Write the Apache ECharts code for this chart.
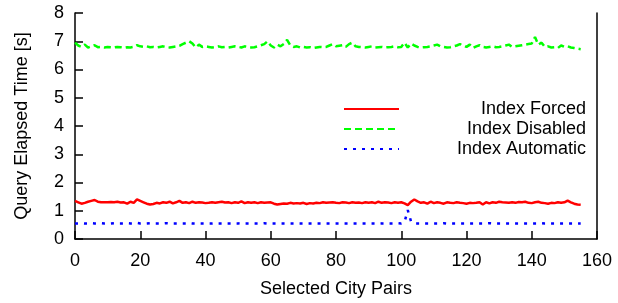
<!DOCTYPE html>
<html><head><meta charset="utf-8">
<script src="https://cdn.jsdelivr.net/npm/echarts@6/dist/echarts.min.js"></script>
<style>html,body{margin:0;padding:0;background:#fff}#c{width:618px;height:303px}</style>
</head><body><div id="c"></div>
<script>
const seriesNames = ['Index Forced', 'Index Disabled', 'Index Automatic'];
const xTicks = [0, 20, 40, 60, 80, 100, 120, 140, 160];
const yTicks = [0, 1, 2, 3, 4, 5, 6, 7, 8];
const indexForced = [
1.35,1.30,1.25,1.28,1.32,1.35,1.38,1.32,1.30,1.30,
1.30,1.31,1.30,1.32,1.29,1.30,1.25,1.32,1.28,1.40,
1.35,1.30,1.25,1.22,1.24,1.28,1.26,1.30,1.28,1.32,
1.26,1.30,1.35,1.28,1.30,1.27,1.32,1.28,1.30,1.29,
1.27,1.28,1.30,1.28,1.30,1.32,1.29,1.30,1.27,1.30,
1.28,1.33,1.27,1.30,1.28,1.30,1.27,1.30,1.28,1.29,
1.30,1.25,1.22,1.24,1.26,1.25,1.28,1.26,1.27,1.26,
1.28,1.24,1.27,1.26,1.28,1.27,1.30,1.28,1.29,1.30,
1.28,1.27,1.30,1.29,1.27,1.30,1.28,1.29,1.27,1.30,
1.28,1.30,1.27,1.32,1.28,1.30,1.29,1.27,1.30,1.28,
1.30,1.26,1.20,1.32,1.40,1.33,1.28,1.30,1.25,1.32,
1.27,1.30,1.28,1.25,1.30,1.28,1.27,1.30,1.28,1.27,
1.25,1.28,1.27,1.28,1.30,1.22,1.30,1.26,1.30,1.28,
1.32,1.30,1.29,1.28,1.30,1.28,1.31,1.30,1.32,1.28,
1.27,1.30,1.32,1.28,1.27,1.25,1.28,1.27,1.30,1.28,
1.30,1.36,1.30,1.25,1.22,1.21
];
const indexDisabled = [
6.95,6.85,6.80,6.88,6.78,6.82,6.86,6.79,6.80,6.78,
6.80,6.79,6.78,6.80,6.79,6.77,6.79,6.78,6.80,6.86,
6.82,6.80,6.82,6.79,6.80,6.78,6.80,6.82,6.79,6.78,
6.80,6.82,6.84,6.90,6.95,7.00,6.92,6.78,6.88,6.80,
6.82,6.80,6.78,6.80,6.82,6.79,6.80,6.78,6.80,6.82,
6.80,6.78,6.82,6.80,6.78,6.79,6.82,6.86,6.90,7.00,
6.85,6.78,6.88,6.82,6.90,7.05,6.85,6.80,6.82,6.78,
6.80,6.78,6.79,6.76,6.78,6.80,6.79,6.80,6.85,6.90,
6.82,6.84,6.86,6.80,6.90,6.95,6.82,6.80,6.79,6.78,
6.80,6.82,6.78,6.79,6.80,6.78,6.79,6.80,6.82,6.79,
6.80,6.95,6.78,6.92,6.85,6.80,6.78,6.79,6.80,6.82,
6.85,6.88,6.82,6.80,6.78,6.79,6.82,6.85,6.90,6.84,
6.80,6.88,6.76,6.82,6.86,6.80,6.78,6.80,6.82,6.79,
6.80,6.82,6.85,6.88,6.80,6.82,6.84,6.86,6.88,6.90,
6.92,7.15,6.88,6.95,6.80,6.82,6.78,6.79,6.76,6.85,
6.80,6.82,6.78,6.76,6.74,6.72
];
const indexAutomatic = [
0.55,0.55,0.56,0.55,0.55,0.56,0.55,0.55,0.56,0.55,
0.55,0.55,0.56,0.55,0.55,0.55,0.56,0.55,0.55,0.57,
0.55,0.55,0.55,0.56,0.55,0.55,0.55,0.55,0.56,0.55,
0.55,0.55,0.55,0.55,0.55,0.57,0.55,0.55,0.55,0.55,
0.55,0.55,0.55,0.56,0.55,0.55,0.55,0.55,0.55,0.55,
0.55,0.56,0.55,0.55,0.55,0.55,0.55,0.55,0.56,0.55,
0.55,0.55,0.55,0.55,0.55,0.55,0.55,0.55,0.55,0.55,
0.55,0.55,0.55,0.55,0.55,0.55,0.55,0.55,0.55,0.55,
0.55,0.55,0.55,0.55,0.55,0.55,0.55,0.55,0.55,0.55,
0.55,0.55,0.55,0.56,0.55,0.55,0.55,0.55,0.55,0.56,
0.55,0.60,1.02,0.62,0.55,0.55,0.55,0.55,0.55,0.55,
0.55,0.55,0.55,0.56,0.55,0.55,0.55,0.55,0.55,0.55,
0.55,0.55,0.55,0.55,0.55,0.55,0.55,0.56,0.55,0.55,
0.55,0.55,0.55,0.55,0.55,0.55,0.55,0.55,0.55,0.55,
0.55,0.55,0.55,0.56,0.55,0.55,0.55,0.55,0.55,0.55,
0.55,0.55,0.55,0.55,0.55,0.55
];
const xName = 'Selected City Pairs';
const yName = 'Query Elapsed Time [s]';

const FONT = 'Liberation Sans';
const toPairs = arr => arr.map((v, i) => [i, v]);
const chart = echarts.init(document.getElementById('c'), null, {renderer: 'canvas'});
const axisLine = {show: true, onZero: false, lineStyle: {color: '#000', width: 1.5}};
chart.setOption({
  animation: false,
  backgroundColor: '#fff',
  grid: {left: 75, right: 21, top: 13, bottom: 62, containLabel: false},
  xAxis: {
    type: 'value', min: xTicks[0], max: xTicks[xTicks.length - 1], interval: 20,
    name: xName, nameLocation: 'middle', nameGap: 41,
    nameTextStyle: {fontFamily: FONT, fontSize: 18, color: '#000'},
    axisLine: axisLine,
    axisTick: {show: true, inside: true, length: 8, lineStyle: {color: '#000', width: 1.5}},
    axisLabel: {fontFamily: FONT, fontSize: 18, color: '#000', margin: 13},
    splitLine: {show: false}
  },
  yAxis: [{
    type: 'value', min: yTicks[0], max: yTicks[yTicks.length - 1], interval: 1,
    name: yName, nameLocation: 'middle', nameGap: 44, nameRotate: 90,
    nameTextStyle: {fontFamily: FONT, fontSize: 18, color: '#000'},
    axisLine: axisLine,
    axisTick: {show: true, inside: true, length: 8, lineStyle: {color: '#000', width: 1.5}},
    axisLabel: {fontFamily: FONT, fontSize: 18, color: '#000', margin: 11},
    splitLine: {show: false}
  }, {
    type: 'value', position: 'right', min: 0, max: 8, interval: 1,
    axisLine: axisLine, axisTick: {show: false}, axisLabel: {show: false}, splitLine: {show: false}
  }],
  legend: {
    orient: 'vertical', left: 343, top: 100, padding: 0, itemWidth: 55, itemHeight: 12, itemGap: 2,
    data: seriesNames,
    itemStyle: {opacity: 0},
    formatter: '{a|{name}}',
    textStyle: {rich: {a: {width: 182, align: 'right', fontFamily: FONT, fontSize: 18, color: '#000'}}}
  },
  series: [
    {name: seriesNames[0], type: 'line', data: toPairs(indexForced), showSymbol: false, symbol: 'none',
     lineStyle: {color: '#ff0000', width: 2.5, type: 'solid'}, itemStyle: {color: '#ff0000'}},
    {name: seriesNames[1], type: 'line', data: toPairs(indexDisabled), showSymbol: false, symbol: 'none',
     lineStyle: {color: '#00ff00', width: 2.5, type: [7, 4]}, itemStyle: {color: '#00ff00'}},
    {name: seriesNames[2], type: 'line', data: toPairs(indexAutomatic), showSymbol: false, symbol: 'none',
     lineStyle: {color: '#0000ff', width: 2.5, type: [3, 6]}, itemStyle: {color: '#0000ff'}}
  ]
});
</script></body></html>
